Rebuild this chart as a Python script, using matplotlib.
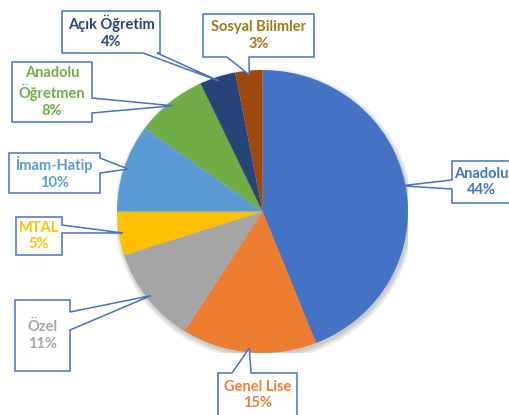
import numpy as np
import matplotlib
matplotlib.use("Agg")
import matplotlib.pyplot as plt
from matplotlib.patches import Polygon, Ellipse

# data
categories = ["Anadolu", "Genel Lise", "Özel", "MTAL", "İmam-Hatip",
              "Anadolu\nÖğretmen", "Açık Öğretim", "Sosyal Bilimler"]
shares = [44, 15, 11, 5, 10, 8, 4, 3]
slice_colors = ["#4472C4", "#ED7D31", "#A5A5A5", "#FFC000", "#5B9BD5",
                "#70AD47", "#264478", "#9E480E"]
text_colors = ["#4472C4", "#ED7D31", "#A5A5A5", "#FFC000", "#5B9BD5",
               "#70AD47", "#264478", "#A07A14"]

# callout boxes in pixel coords (y down): x0, y0, x1, y1, tail side, tail base a..b, text dx
BOXES = [
    (452, 161, 522, 203, "left", 180, 189, -6),
    (218, 373, 297, 425, "top", 232, 251, 0),
    (15, 300, 70, 371, "right", 312, 330, 0),
    (16, 217, 62, 255, "right", 225, 233, 0),
    (9, 153, 100, 193, "right", 158, 173, 0),
    (12, 62, 92, 122, "right", 98, 113, 0),
    (62, 11, 160, 53, "bottom", 143, 157, 0),
    (203, 14, 314, 57, "bottom", 227, 249, 0),
]
EDGE = "#4472C4"
W, H = 510, 415

fig = plt.figure(figsize=(W / 100, H / 100), dpi=100)
fig.patch.set_facecolor("white")

# pie axes placed so the disc spans x 117..408, y 70..353 px
ax = fig.add_axes([117 / W, (H - 353) / H, 291 / W, 283 / H])

# faint soft shadow under the disc
for k in range(6):
    ax.add_patch(Ellipse((0.01, -0.02), 2 + 0.012 * k, 2 + 0.014 * k,
                         facecolor="black", edgecolor="none", alpha=0.035, zorder=0))

wedges, _ = ax.pie(shares, colors=slice_colors, startangle=90, counterclock=False,
                   wedgeprops=dict(linewidth=0, zorder=2))
ax.set_aspect("auto")
ax.set_xlim(-1, 1)
ax.set_ylim(-1, 1)
ax.axis("off")

# overlay in pixel coords for the callouts
ov = fig.add_axes([0, 0, 1, 1], zorder=5)
ov.set_xlim(0, W)
ov.set_ylim(H, 0)
ov.axis("off")
ov.patch.set_alpha(0)


def callout_poly(x0, y0, x1, y1, side, a, b, tip):
    pts = [(x0, y0)]
    if side == "top":
        pts += [(a, y0), tip, (b, y0)]
    pts.append((x1, y0))
    if side == "right":
        pts += [(x1, a), tip, (x1, b)]
    pts.append((x1, y1))
    if side == "bottom":
        pts += [(b, y1), tip, (a, y1)]
    pts.append((x0, y1))
    if side == "left":
        pts += [(x0, b), tip, (x0, a)]
    return pts


to_ov = ov.transData.inverted()
for w, name, val, tc, box in zip(wedges, categories, shares, text_colors, BOXES):
    x0, y0, x1, y1, side, a, b, dx = box
    mid = np.deg2rad((w.theta1 + w.theta2) / 2)
    disp = ax.transData.transform((0.97 * np.cos(mid), 0.97 * np.sin(mid)))
    tip = tuple(to_ov.transform(disp))
    poly = Polygon(callout_poly(x0, y0, x1, y1, side, a, b, tip), closed=True,
                   facecolor="white", edgecolor=EDGE, linewidth=1.1)
    ov.add_patch(poly)
    ty = (y0 + y1) / 2
    if side == "top":
        ty = y0 + 22
    ov.text((x0 + x1) / 2 + dx, ty, f"{name}\n{val}%", ha="center", va="center",
            fontsize=10.5, fontweight="bold", color=tc, family="Lato",
            linespacing=1.25, clip_on=False)

fig.savefig("out.png", dpi=100, facecolor="white")
